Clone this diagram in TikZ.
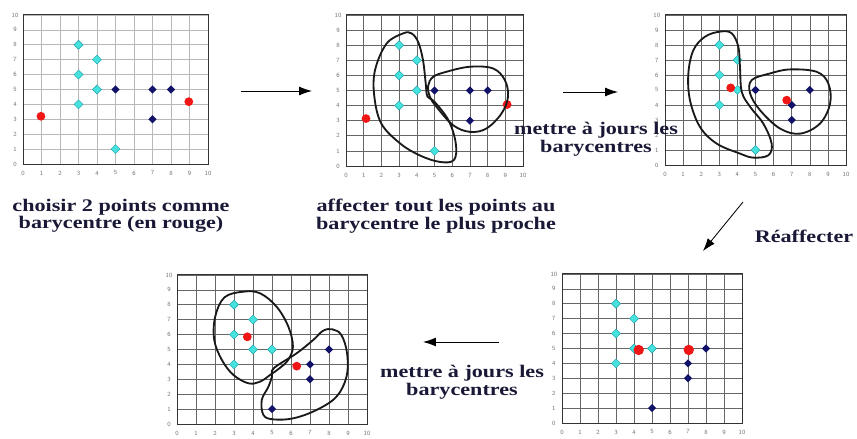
\documentclass[tikz,border=0pt]{standalone}
\usepackage{fontspec}
\setmainfont{Liberation Serif}[FakeStretch=1.25]
\usetikzlibrary{arrows.meta,shapes.geometric}

\definecolor{turquoise}{RGB}{70,226,222}
\definecolor{bordcyan}{RGB}{30,160,170}
\definecolor{marine}{RGB}{18,18,105}
\definecolor{rouge}{RGB}{240,22,22}
\definecolor{encre}{RGB}{25,25,55}

\begin{document}
\begin{tikzpicture}[
    x=0.025cm, y=0.025cm,
    grille/.style={black!60, line width=0.45pt},
    grillepale/.style={black!28, line width=0.45pt},
    cadre/.style={black!80, line width=0.7pt},
    graduation/.style={font=\fontsize{4.5}{5}\selectfont\sffamily, text=black!55, inner sep=0pt},
    ptcyan/.style={diamond, fill=turquoise, draw=bordcyan, line width=0.3pt, inner sep=0pt, minimum width=2.3mm, minimum height=2.3mm},
    ptbleu/.style={diamond, fill=marine, inner sep=0pt, minimum width=2.1mm, minimum height=2.1mm},
    centre/.style={circle, fill=rouge, inner sep=0pt, minimum size=2.2mm},
    zone/.style={black!90, line width=1.3pt},
    fleche/.style={-{Latex[length=3.2mm, width=2.2mm]}, line width=0.6pt, black},
    legende/.style={font=\bfseries\fontsize{12.6}{12.5}\selectfont, align=center, text=encre}
]
\useasboundingbox (0,0) rectangle (857,439);

% Graphique 1 : choix des barycentres
\begin{scope}[shift={(23,275)}, x=0.4625cm, y=0.3725cm]
\foreach \i in {0,...,10} {
    \draw[grillepale] (\i,0) -- (\i,10);
    \draw[grillepale] (0,\i) -- (10,\i);
    \node[graduation] (ga\i) at (\i,-0.6) {\i};
    \node[graduation] (ha\i) at (-0.43,\i) {\i};
}
\draw[cadre] (0,0) rectangle (10,10);
\foreach \x/\y [count=\k] in {3/8,4/7,3/6,4/5,3/4,5/1}
    \node[ptcyan] (ca\k) at (\x,\y) {};
\foreach \x/\y [count=\k] in {5/5,7/5,8/5,7/3}
    \node[ptbleu] (ba\k) at (\x,\y) {};
\node[centre] (ra1) at (0.97,3.2) {};
\node[centre] (ra2) at (8.96,4.18) {};
\end{scope}

% Graphique 2 : affectation
\begin{scope}[shift={(346,273)}, x=0.4425cm, y=0.3775cm]
\foreach \i in {0,...,10} {
    \draw[grille] (\i,0) -- (\i,10);
    \draw[grille] (0,\i) -- (10,\i);
    \node[graduation] (gb\i) at (\i,-0.6) {\i};
    \node[graduation] (hb\i) at (-0.45,\i) {\i};
}
\draw[cadre] (0,0) rectangle (10,10);
\foreach \x/\y [count=\k] in {3/8,4/7,3/6,4/5,3/4,5/1}
    \node[ptcyan] (cb\k) at (\x,\y) {};
\foreach \x/\y [count=\k] in {5/5,7/5,8/5,7/3}
    \node[ptbleu] (bb\k) at (\x,\y) {};
\node[centre] (rb1) at (1.13,3.14) {};
\node[centre] (rb2) at (9.1,4.07) {};
\draw[zone] plot[smooth cycle, tension=0.6] coordinates {
    (3.23,8.78) (2.29,8.1) (1.64,6.35) (1.6,4.6) (2.0,2.8) (3.05,1.5)
    (4.17,0.7) (5.3,0.27) (6.1,0.4) (6.2,1.5) (5.8,3.0) (5.0,4.25)
    (4.6,4.6) (4.5,5.5) (4.35,7.0) (4.08,8.2) (3.7,8.78)};
\draw[zone] plot[smooth cycle, tension=0.6] coordinates {
    (4.92,5.9) (5.68,6.24) (7.0,6.57) (8.3,6.46) (8.97,5.69) (9.15,4.58)
    (8.78,3.47) (7.93,2.48) (7.0,2.26) (6.05,2.7) (5.11,3.92) (4.74,4.58)
    (4.64,5.3)};
\end{scope}

% Graphique 3 : nouveaux barycentres
\begin{scope}[shift={(665,274)}, x=0.4525cm, y=0.375cm]
\foreach \i in {0,...,10} {
    \draw[grille] (\i,0) -- (\i,10);
    \draw[grille] (0,\i) -- (10,\i);
    \node[graduation] (gc\i) at (\i,-0.6) {\i};
    \node[graduation] (hc\i) at (-0.45,\i) {\i};
}
\draw[cadre] (0,0) rectangle (10,10);
\foreach \x/\y [count=\k] in {3/8,4/7,3/6,4/5,3/4,5/1}
    \node[ptcyan] (cc\k) at (\x,\y) {};
\foreach \x/\y [count=\k] in {5/5,7/4,8/5,7/3}
    \node[ptbleu] (bc\k) at (\x,\y) {};
\node[centre] (rc1) at (3.63,5.14) {};
\node[centre] (rc2) at (6.72,4.32) {};
\draw[zone] plot[smooth cycle, tension=0.6] coordinates {
    (3.04,8.89) (2.21,8.55) (1.57,7.66) (1.29,6.1) (1.38,4.32) (1.93,2.54)
    (2.85,1.43) (4.14,0.76) (4.88,0.49) (5.71,0.65) (5.89,1.43) (5.43,2.76)
    (4.7,3.88) (4.24,4.88) (4.14,6.55) (4.05,7.88) (3.68,8.78)};
\draw[zone] plot[smooth cycle, tension=0.6] coordinates {
    (4.79,5.66) (5.8,6.1) (6.9,6.37) (8.38,6.21) (9.02,5.43) (9.12,4.1)
    (8.56,2.76) (7.46,2.09) (6.35,2.43) (5.25,3.65) (4.7,4.77)};
\end{scope}

% Graphique 4 : reaffectation
\begin{scope}[shift={(562,16)}, x=0.45cm, y=0.3725cm]
\foreach \i in {0,...,10} {
    \draw[grille] (\i,0) -- (\i,10);
    \draw[grille] (0,\i) -- (10,\i);
    \node[graduation] (gd\i) at (\i,-0.6) {\i};
    \node[graduation] (hd\i) at (-0.45,\i) {\i};
}
\draw[cadre] (0,0) rectangle (10,10);
\foreach \x/\y [count=\k] in {3/8,4/7,3/6,4/5,5/5,3/4}
    \node[ptcyan] (cd\k) at (\x,\y) {};
\foreach \x/\y [count=\k] in {8/5,7/4,7/3,5/1}
    \node[ptbleu] (bd\k) at (\x,\y) {};
\node[centre, minimum size=2.6mm] (rd1) at (4.26,4.9) {};
\node[centre, minimum size=2.6mm] (rd2) at (7.04,4.9) {};
\end{scope}

% Graphique 5 : barycentres mis a jour
\begin{scope}[shift={(177,15)}, x=0.475cm, y=0.3725cm]
\foreach \i in {0,...,10} {
    \draw[grille] (\i,0) -- (\i,10);
    \draw[grille] (0,\i) -- (10,\i);
    \node[graduation] (ge\i) at (\i,-0.6) {\i};
    \node[graduation] (he\i) at (-0.42,\i) {\i};
}
\draw[cadre] (0,0) rectangle (10,10);
\foreach \x/\y [count=\k] in {3/8,4/7,3/6,4/5,5/5,3/4}
    \node[ptcyan] (ce\k) at (\x,\y) {};
\foreach \x/\y [count=\k] in {8/5,7/4,7/3,5/1}
    \node[ptbleu] (be\k) at (\x,\y) {};
\node[centre] (re1) at (3.7,5.85) {};
\node[centre] (re2) at (6.3,3.88) {};
\draw[zone] plot[smooth cycle, tension=0.6] coordinates {
    (3.5,8.88) (4.37,8.77) (5.24,7.87) (5.86,6.53) (6.1,5.2) (5.85,4.3)
    (5.4,3.75) (4.9,3.29) (4.37,2.84) (3.76,2.73) (2.97,3.29) (2.36,4.3)
    (1.96,5.64) (2.01,7.2) (2.5,8.5)};
\draw[zone] plot[smooth cycle, tension=0.6] coordinates {
    (5.1,3.75) (6.3,4.75) (7.17,5.64) (7.69,6.26) (8.18,6.35) (8.65,5.97)
    (8.95,4.74) (8.92,3.18) (8.39,1.83) (7.34,0.94) (6.12,0.38) (5.07,0.31)
    (4.55,0.6) (4.46,1.61) (4.81,2.5) (5.0,3.2)};
\end{scope}

% Fleches
\coordinate (f1a) at (241,348);
\coordinate (f1b) at (312,348);
\coordinate (f2a) at (563,347);
\coordinate (f2b) at (618,347);
\coordinate (f3a) at (743,237);
\coordinate (f3b) at (703,188);
\coordinate (f4a) at (499,97);
\coordinate (f4b) at (423,97);
\draw[fleche] (f1a) -- (f1b);
\draw[fleche] (f2a) -- (f2b);
\draw[fleche] (f3a) -- (f3b);
\draw[fleche] (f4a) -- (f4b);

% Legendes
\node[legende] (t1) at (121,223) {choisir 2 points comme\\barycentre (en rouge)};
\node[legende] (t2) at (436,223) {affecter tout les points au\\barycentre le plus proche};
\node[legende] (t3) at (596,300) {mettre à jours les\\barycentres};
\node[legende] (t4) at (462,57) {mettre à jours les\\barycentres};
\node[legende] (t5) at (804,203) {Réaffecter};

\end{tikzpicture}
\end{document}
